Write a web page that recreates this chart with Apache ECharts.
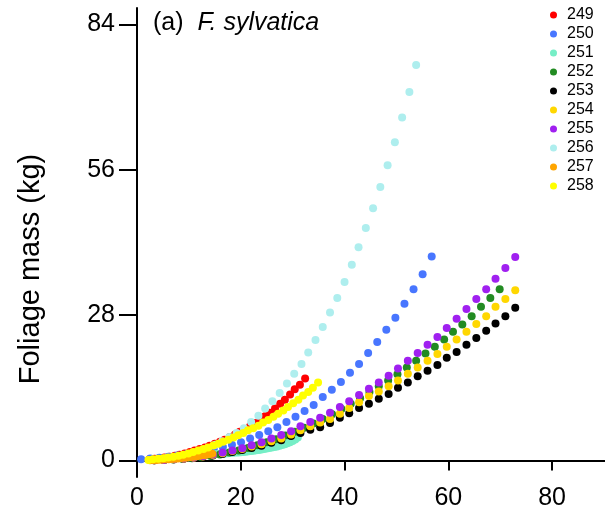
<!DOCTYPE html>
<html>
<head>
<meta charset="utf-8">
<script src="https://cdn.jsdelivr.net/npm/echarts@6/dist/echarts.min.js"></script>
<style>
html,body{margin:0;padding:0;background:#fff;}
#chart{width:605px;height:511px;}
</style>
</head>
<body>
<div id="chart"></div>
<script>
// ---- data ----
const seriesNames = ['249','250','251','252','253','254','255','256','257','258'];
const seriesColors = ['#FF0000','#4876FF','#76EEC6','#228B22','#000000','#FFD700','#A020F0','#AEEEEE','#FFA500','#FFFF00'];

const x249 = [2.4,3.4,4.4,5.3,6.3,7.3,8.2,9.2,10.2,11.1,12.1,13.1,14.0,15.0,16.0,16.9,17.9,18.9,19.8,20.8,21.8,22.7,23.7,24.7,25.6,26.6,27.6,28.5,29.5,30.4,31.4,32.4];
const y249 = [0.2,0.3,0.4,0.55,0.7,0.9,1.1,1.35,1.6,1.9,2.2,2.5,2.8,3.2,3.6,4.0,4.5,5.0,5.5,6.0,6.6,7.2,7.8,8.5,9.2,10.0,10.9,11.7,12.7,13.7,14.6,15.8];

const x250 = [0.8,2.55,4.3,6.05,7.8,9.55,11.3,13.05,14.8,16.55,18.3,20.05,21.8,23.55,25.3,27.05,28.8,30.55,32.3,34.05,35.8,37.55,39.3,41.05,42.8,44.55,46.3,48.05,49.8,51.55,53.3,55.05,56.8];
const y250 = [0.2,0.35,0.5,0.7,0.95,1.2,1.5,1.85,2.2,2.6,3.0,3.5,4.2,4.9,5.6,6.4,7.4,8.4,9.5,10.7,12.2,13.6,15.1,16.9,18.6,20.7,22.8,25.2,27.5,30.2,33.0,35.9,39.3];

const x251 = [10.0,10.5,11.0,11.5,12.0,12.5,13.0,13.5,14.0,14.5,15.0,15.5,16.0,16.5,17.0,17.5,18.0,18.5,19.0,19.5,20.0,20.5,21.0,21.5,22.0,22.5,23.0,23.5,24.0,24.5,25.0,25.5,26.0,26.5,27.0,27.5,28.0,28.5,29.0,29.5,30.0,30.5,31.0];
const y251 = [0.55,0.62,0.7,0.78,0.86,0.94,1.0,1.05,1.1,1.14,1.18,1.22,1.26,1.3,1.34,1.38,1.42,1.46,1.5,1.54,1.58,1.63,1.68,1.74,1.8,1.87,1.94,2.02,2.1,2.19,2.28,2.38,2.48,2.59,2.7,2.83,2.97,3.12,3.3,3.5,3.75,4.05,4.4];

const x252 = [3.4,5.2,7.0,8.8,10.6,12.4,14.2,16.0,17.8,19.6,21.4,23.2,25.0,26.8,28.6,30.4,32.2,34.0,35.8,37.6,39.4,41.2,43.0,44.8,46.6,48.4,50.2,52.0,53.8,55.6,57.4,59.2,60.9,62.7,64.5,66.3,68.1,69.9];
const y252 = [0.04,0.08,0.15,0.25,0.4,0.6,0.85,1.15,1.5,1.9,2.4,2.9,3.5,4.1,4.8,5.5,6.3,7.1,8.0,8.9,9.9,10.9,12.0,13.2,14.3,15.4,16.6,17.9,19.2,20.6,21.9,23.3,24.8,26.2,27.8,29.6,31.3,33.0];

const x255 = [3.3,5.2,7.1,9.0,10.9,12.7,14.6,16.5,18.4,20.3,22.1,24.0,25.9,27.8,29.7,31.5,33.4,35.3,37.2,39.1,40.9,42.8,44.7,46.6,48.5,50.3,52.2,54.1,56.0,57.9,59.7,61.6,63.5,65.4,67.3,69.1,71.0,72.9];
const x253 = x255;
const y253 = [0.05,0.1,0.2,0.3,0.45,0.7,0.95,1.25,1.6,2.0,2.4,2.8,3.4,3.9,4.7,5.3,5.9,6.4,7.2,8.2,9.1,10.1,10.9,11.9,12.8,14.0,15.0,16.2,17.3,18.4,19.8,20.9,22.3,23.6,25.0,26.4,27.8,29.4];
const x254 = x255;
const y254 = [0.05,0.1,0.2,0.3,0.5,0.75,1.05,1.4,1.8,2.2,2.7,3.1,3.7,4.2,5.0,5.8,6.6,7.3,8.0,9.0,10.1,11.2,12.4,13.3,14.3,15.4,16.7,17.9,19.2,20.5,21.9,23.3,24.8,26.3,27.8,29.6,31.1,32.8];
const y255 = [0.05,0.1,0.2,0.35,0.55,0.8,1.15,1.5,1.9,2.35,2.9,3.5,4.2,4.9,5.6,6.6,7.4,8.2,9.2,10.3,11.4,12.6,13.8,15.0,16.3,17.7,19.2,20.7,22.3,23.8,25.5,27.3,29.2,31.1,33.0,35.0,37.1,39.2];

const x256 = [4.0,5.4,6.8,8.1,9.5,10.9,12.3,13.7,15.1,16.4,17.8,19.2,20.6,22.0,23.4,24.7,26.1,27.5,28.9,30.3,31.7,33.0,34.4,35.8,37.2,38.6,40.0,41.4,42.7,44.1,45.5,46.9,48.3,49.7,51.1,52.5,53.8];
const y256 = [0.2,0.35,0.55,0.8,1.1,1.45,1.9,2.4,3.0,3.7,4.5,5.3,6.2,7.4,8.6,10.0,11.4,13.0,14.8,16.7,18.6,20.8,23.2,25.7,28.5,31.3,34.4,37.7,41.1,44.8,48.6,52.7,56.9,61.3,66.1,71.0,76.2];

const x257 = [2.5,3.1,3.7,4.3,4.9,5.5,6.1,6.7,7.3,7.9,8.5,9.1,9.7,10.3,10.9,11.5,12.1,12.7,13.3,13.9,14.5];
const y257 = [0.05,0.08,0.1,0.13,0.16,0.2,0.24,0.28,0.33,0.38,0.44,0.5,0.57,0.64,0.72,0.8,0.9,1.0,1.1,1.2,1.3];

const x258 = [2.2,3.1,4.1,5.1,6.0,7.0,8.0,8.9,9.9,10.8,11.8,12.8,13.7,14.7,15.7,16.6,17.6,18.6,19.5,20.5,21.4,22.4,23.4,24.3,25.3,26.3,27.2,28.2,29.1,30.1,31.1,32.0,33.0,33.9,34.9];
const y258 = [0.1,0.2,0.3,0.4,0.55,0.7,0.9,1.1,1.35,1.6,1.9,2.2,2.5,2.85,3.2,3.6,4.0,4.4,4.85,5.3,5.8,6.2,6.7,7.3,7.8,8.4,9.0,9.6,10.3,11.0,11.7,12.5,13.2,14.0,15.0];

const xTicks = [0,20,40,60,80];
const yTicks = [0,28,56,84];

// ---- chart ----
const xs = [x249,x250,x251,x252,x253,x254,x255,x256,x257,x258];
const ys = [y249,y250,y251,y252,y253,y254,y255,y256,y257,y258];
const FONT = 'Liberation Sans, Arial, sans-serif';

const series = seriesNames.map((n,i)=>({
  name: n,
  type: 'scatter',
  symbol: 'circle',
  symbolSize: 8,
  itemStyle: {color: seriesColors[i], opacity: 1},
  emphasis: {disabled: true},
  data: xs[i].map((x,j)=>[x, ys[i][j]])
}));

const chart = echarts.init(document.getElementById('chart'), null, {renderer:'canvas'});
chart.setOption({
  animation: false,
  backgroundColor: '#fff',
  grid: {left: 137, right: 0, top: 8, bottom: 34, containLabel: false, outerBoundsMode: 'none'},
  xAxis: {
    type: 'value', min: 0, max: 90.2,
    axisLine: {show: true, onZero: true, lineStyle: {color:'#000', width: 2}},
    axisTick: {show: true, length: 10, lineStyle: {color:'#000', width: 2}, customValues: xTicks},
    axisLabel: {fontSize: 25, color:'#000', fontFamily: FONT, margin: 9, customValues: xTicks},
    splitLine: {show: false}
  },
  yAxis: {
    type: 'value', min: -3.2, max: 87.2,
    axisLine: {show: true, onZero: false, lineStyle: {color:'#000', width: 2}},
    axisTick: {show: true, length: 18, lineStyle: {color:'#000', width: 2}, customValues: yTicks},
    axisLabel: {fontSize: 25, color:'#000', fontFamily: FONT, margin: 22, customValues: yTicks},
    splitLine: {show: false}
  },
  legend: {
    orient: 'vertical', left: 545, top: 2,
    itemWidth: 7, itemHeight: 7, itemGap: 3, icon: 'circle',
    selectedMode: false,
    textStyle: {fontSize: 16, color:'#000', fontFamily: FONT, lineHeight: 16, padding:[0,0,0,5]},
    data: seriesNames
  },
  graphic: [
    {type:'text', left: 153, top: 11, style: {
      text: '{n|(a)  }{i|F. sylvatica}',
      rich: {
        n: {fontSize: 25, fontFamily: FONT, fill:'#000'},
        i: {fontSize: 25, fontFamily: FONT, fontStyle:'italic', fill:'#000'}
      }
    }},
    {type:'text', x: 31, y: 269, rotation: Math.PI/2, style: {
      text: 'Foliage mass (kg)', fontSize: 29, fontFamily: FONT, fill:'#000',
      align: 'center', verticalAlign: 'middle'
    }}
  ],
  series: series
});
</script>
</body>
</html>
